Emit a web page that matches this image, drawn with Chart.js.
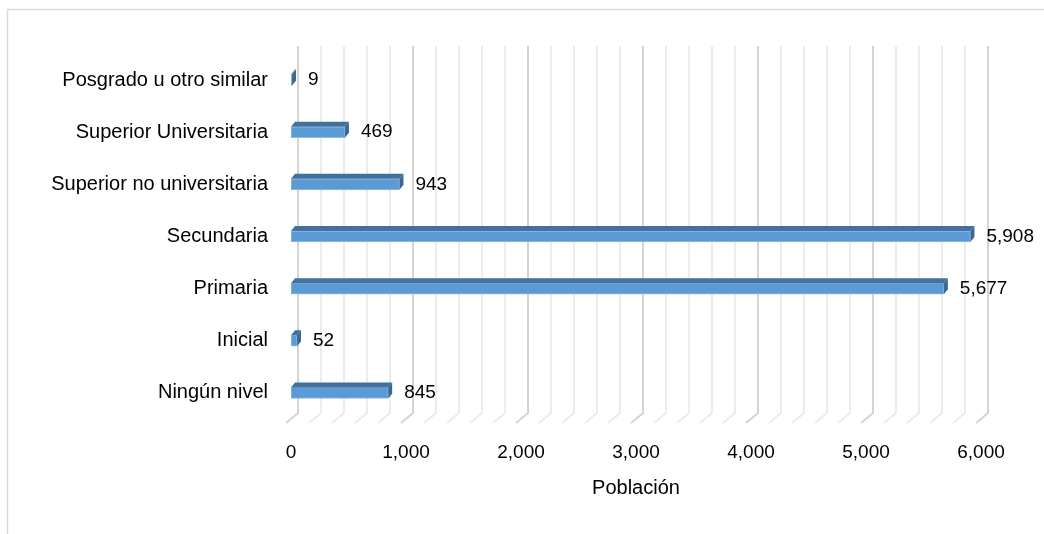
<!DOCTYPE html>
<html>
<head>
<meta charset="utf-8">
<script src="https://cdn.jsdelivr.net/npm/chart.js@4.4.0/dist/chart.umd.min.js"></script>
<style>
  html, body { margin: 0; padding: 0; background: #fff; }
  #caja { width: 1044px; height: 534px; position: relative; }
</style>
</head>
<body>
<div id="caja"><canvas id="graficoNivel"></canvas></div>
<script>
// Nivel educativo alcanzado (de arriba hacia abajo)
const niveles = [
    "Posgrado u otro similar",
    "Superior Universitaria",
    "Superior no universitaria",
    "Secundaria",
    "Primaria",
    "Inicial",
    "Ningún nivel"
];
const poblacion = [9, 469, 943, 5908, 5677, 52, 845];
const ticksX = [0, 1000, 2000, 3000, 4000, 5000, 6000];
const tituloX = "Población";

const fuente = '"Liberation Sans", Arial, sans-serif';
const fmt = new Intl.NumberFormat("en-US");

// marco gris + fondo
const marco = {
    id: "marco",
    beforeDraw(chart) {
        const ctx = chart.ctx;
        ctx.save();
        ctx.fillStyle = "#ffffff";
        ctx.fillRect(0, 0, chart.width, chart.height);
        ctx.strokeStyle = "#d9d9d9";
        ctx.lineWidth = 1.5;
        ctx.beginPath();
        ctx.moveTo(chart.width, 9.5);
        ctx.lineTo(7.5, 9.5);
        ctx.lineTo(7.5, chart.height);
        ctx.stroke();
        ctx.restore();
    }
};

// rejilla con efecto 3D (plano de fondo + piso)
const rejilla3D = {
    id: "rejilla3D",
    beforeDatasetsDraw(chart) {
        const ctx = chart.ctx;
        const x = chart.scales.x;
        const area = chart.chartArea;
        ctx.save();
        ctx.lineCap = "butt";
        for (let v = 0; v <= 6000; v += 200) {
            const px = x.getPixelForValue(v) + 7;
            const mayor = v % 1000 === 0;
            ctx.strokeStyle = mayor ? "#d4d4d4" : "#ececec";
            ctx.lineWidth = 2;
            ctx.beginPath();
            ctx.moveTo(px, area.top - 8);
            ctx.lineTo(px, area.bottom - 6);
            ctx.lineTo(px - 12, area.bottom + 4);
            ctx.stroke();
        }
        ctx.restore();
    }
};

// caras superior y lateral de las barras + etiquetas de datos
const barras3D = {
    id: "barras3D",
    afterDatasetsDraw(chart) {
        const ctx = chart.ctx;
        const meta = chart.getDatasetMeta(0);
        const dx = 4, dy = 5;
        ctx.save();
        meta.data.forEach((el, i) => {
            const top = el.y - el.height / 2;
            const bot = el.y + el.height / 2;
            const x0 = el.base, x1 = el.x;
            // cara superior
            ctx.fillStyle = "#41719c";
            ctx.beginPath();
            ctx.moveTo(x0, top);
            ctx.lineTo(x0 + dx, top - dy);
            ctx.lineTo(x1 + dx, top - dy);
            ctx.lineTo(x1, top);
            ctx.closePath();
            ctx.fill();
            // cara lateral
            ctx.fillStyle = "#3b6791";
            ctx.beginPath();
            ctx.moveTo(x1, top);
            ctx.lineTo(x1 + dx, top - dy);
            ctx.lineTo(x1 + dx, bot - dy);
            ctx.lineTo(x1, bot);
            ctx.closePath();
            ctx.fill();
            // etiqueta
            ctx.fillStyle = "#000000";
            ctx.font = "19px " + fuente;
            ctx.textAlign = "left";
            ctx.textBaseline = "middle";
            ctx.fillText(fmt.format(poblacion[i]), x1 + 16, el.y);
        });
        ctx.restore();
    }
};

new Chart(document.getElementById("graficoNivel"), {
    type: "bar",
    data: {
        labels: niveles,
        datasets: [{
            label: tituloX,
            data: poblacion,
            backgroundColor: "#5b9bd5",
            borderColor: "#8fbbe4",
            borderWidth: 1,
            borderSkipped: false,
            barThickness: 11
        }]
    },
    plugins: [marco, rejilla3D, barras3D],
    options: {
        indexAxis: "y",
        responsive: true,
        maintainAspectRatio: false,
        animation: false,
        layout: { padding: { top: 54, right: 63, bottom: 0, left: 0 } },
        plugins: {
            legend: { display: false },
            tooltip: { enabled: false }
        },
        scales: {
            x: {
                min: 0,
                max: 6000,
                afterBuildTicks: (s) => { s.ticks = ticksX.map(v => ({ value: v })); },
                afterFit: (s) => { s.height = 115; },
                grid: { display: false, drawTicks: false },
                border: { display: false },
                ticks: {
                    color: "#000000",
                    font: { family: fuente, size: 19 },
                    padding: 22,
                    callback: (v) => fmt.format(v)
                },
                title: {
                    display: true,
                    text: tituloX,
                    color: "#000000",
                    font: { family: fuente, size: 20 },
                    padding: { top: 0, bottom: 34 }
                }
            },
            y: {
                afterFit: (s) => { s.width = 291; },
                grid: { display: false, drawTicks: false },
                border: { display: false },
                ticks: {
                    color: "#000000",
                    font: { family: fuente, size: 20 },
                    padding: 23
                }
            }
        }
    }
});
</script>
</body>
</html>
